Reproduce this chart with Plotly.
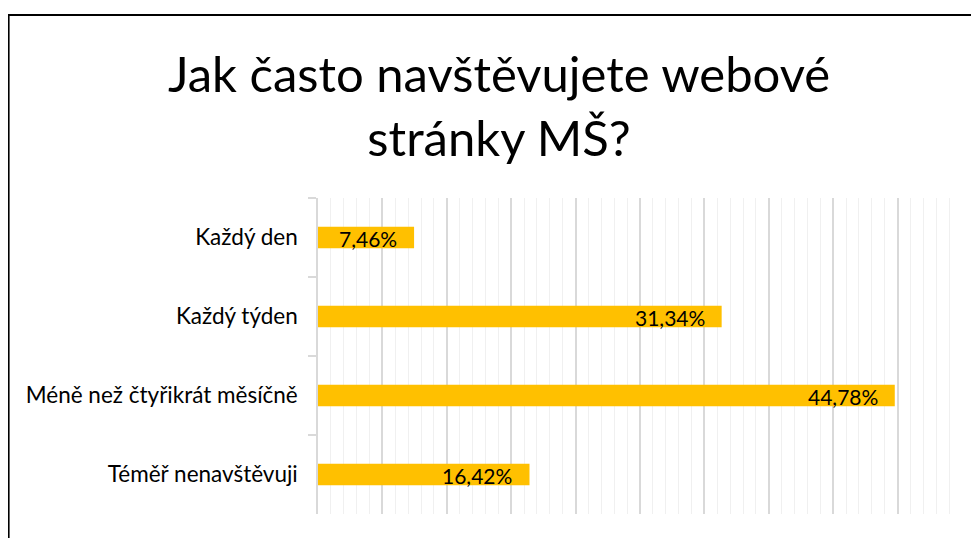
import plotly.graph_objects as go

categories = ["Každý den", "Každý týden", "Méně než čtyřikrát měsíčně", "Téměř nenavštěvuji"]
values = [7.46, 31.34, 44.78, 16.42]
value_labels = ["7,46%", "31,34%", "44,78%", "16,42%"]
title_text = "Jak často navštěvujete webové<br>stránky MŠ?"

# page has an 8px body margin; figure coordinates are page coordinates minus 8
W, H = 971, 530
ML, MR, MT, MB = 310, 17, 190, 24
PW, PH = W - ML - MR, H - MT - MB

FONT = "Lato"
BAR = "#FFC000"

fig = go.Figure()
fig.add_trace(go.Bar(
    y=categories, x=values, orientation="h",
    marker=dict(color=BAR, line=dict(width=0)),
    hoverinfo="skip",
))

for c, v, t in zip(categories, values, value_labels):
    fig.add_annotation(x=v, y=c, xref="x", yref="y", text=t, showarrow=False,
                       xanchor="right", yanchor="middle", xshift=-15, yshift=-1,
                       font=dict(family=FONT, size=21, color="#000000"))

def px_x(p):
    return (p - ML) / PW

def px_y(p):
    return (H - MB - p) / PH

# outer frame (left and top edges)
fig.add_shape(type="line", xref="paper", yref="paper",
              x0=px_x(0.5), x1=px_x(0.5), y0=px_y(7), y1=px_y(H + 5),
              line=dict(color="#000000", width=2.2))
fig.add_shape(type="line", xref="paper", yref="paper",
              x0=px_x(-1), x1=px_x(W + 5), y0=px_y(7), y1=px_y(7),
              line=dict(color="#000000", width=2.2))

# title
fig.add_annotation(text=title_text, xref="paper", yref="paper",
                   x=px_x(491), y=px_y(97), xanchor="center", yanchor="middle",
                   showarrow=False, align="center",
                   font=dict(family=FONT, size=49, color="#000000"))

fig.update_layout(
    width=W, height=H,
    margin=dict(l=ML, r=MR, t=MT, b=MB, pad=0),
    paper_bgcolor="white", plot_bgcolor="white",
    bargap=0.725,
    showlegend=False,
    font=dict(family=FONT, color="#000000"),
    xaxis=dict(range=[0, 50], showticklabels=False, ticks="",
               showgrid=True, gridcolor="#d9d9d9", gridwidth=1.5, dtick=5,
               minor=dict(dtick=1, showgrid=True, gridcolor="#f0f0f0", gridwidth=1.3),
               zeroline=False, showline=False, fixedrange=True),
    yaxis=dict(autorange="reversed", type="category",
               showline=True, linecolor="#d9d9d9", linewidth=1.5,
               ticks="outside", tickson="boundaries", ticklen=8,
               tickcolor="#d9d9d9", tickwidth=1.5, ticklabelstandoff=14,
               showgrid=False, zeroline=False,
               tickfont=dict(family=FONT, size=22.5, color="#000000")),
)

fig.write_html("out.html")
